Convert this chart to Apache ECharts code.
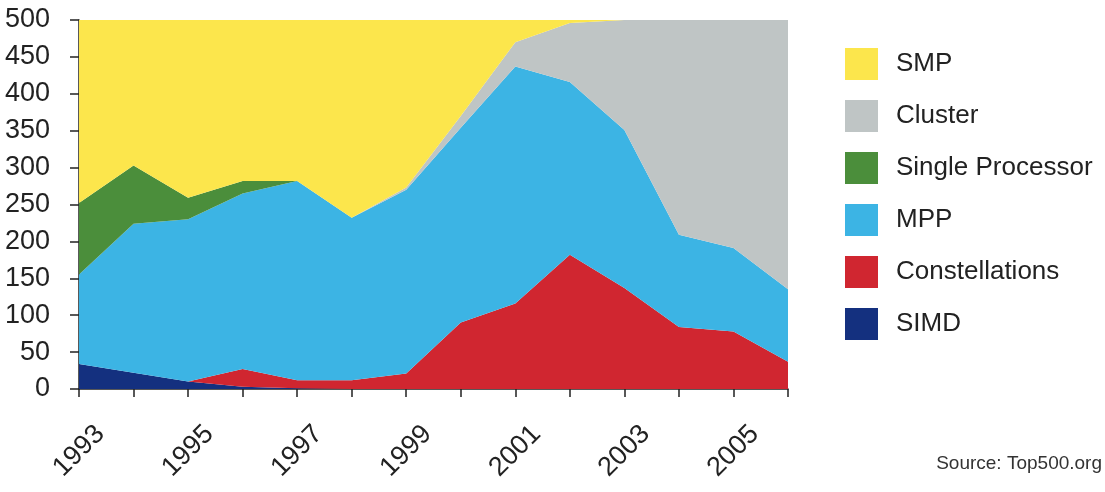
<!DOCTYPE html>
<html>
<head>
<meta charset="utf-8">
<script src="https://cdn.jsdelivr.net/npm/echarts@6/dist/echarts.min.js"></script>
<style>
html,body{margin:0;padding:0;background:#fff;}
#chart{width:1105px;height:492px;}
</style>
</head>
<body>
<div id="chart"></div>
<script>
const years = ['1993','1994','1995','1996','1997','1998','1999','2000','2001','2002','2003','2004','2005','2006'];
const simd           = [34, 22, 10,  3,   1,   0,   0,   0,   0,   0,   0,   0,   0,   0];
const constellations = [ 0,  0,  0, 24,  11,  12,  21,  90, 116, 182, 137,  84,  78,  37];
const mpp            = [121,202,220,238, 270, 220, 249, 264, 321, 234, 214, 125, 113,  98];
const singleProc     = [97, 79, 29, 17,   0,   0,   0,   0,   0,   0,   0,   0,   0,   0];
const cluster        = [ 0,  0,  0,  0,   0,   0,   3,  16,  33,  80, 149, 291, 309, 365];
const smp            = [248,197,241,218, 218, 268, 227, 130,  30,   4,   0,   0,   0,   0];
const yTicks = [0, 500, 50];
const shownYears = ['1993','1995','1997','1999','2001','2003','2005'];
const legendOrder = ['SMP','Cluster','Single Processor','MPP','Constellations','SIMD'];

const FONT = '"Liberation Sans", Arial, sans-serif';
function area(name, data, color) {
  return {
    name: name, type: 'line', stack: 'total', data: data,
    symbol: 'none', smooth: false,
    lineStyle: { width: 0, color: color },
    itemStyle: { color: color },
    areaStyle: { color: color, opacity: 1 }
  };
}
const chart = echarts.init(document.getElementById('chart'), null, { renderer: 'canvas' });
chart.setOption({
  animation: false,
  backgroundColor: '#ffffff',
  grid: { left: 79, right: 317, top: 20, bottom: 103, containLabel: false },
  legend: {
    orient: 'vertical', left: 845, top: 48, padding: 0,
    data: legendOrder, icon: 'rect',
    itemWidth: 33, itemHeight: 32, itemGap: 20,
    textStyle: { fontFamily: FONT, fontSize: 26, color: '#222', padding: [0, 0, 0, 13] }
  },
  xAxis: {
    type: 'category', data: years, boundaryGap: false,
    axisLine: { show: true, lineStyle: { color: '#222', width: 1.5 } },
    axisTick: { show: true, interval: 0, length: 8, lineStyle: { color: '#222', width: 1.5 } },
    axisLabel: {
      interval: function (i, v) { return shownYears.indexOf(v) >= 0; },
      rotate: 45, align: 'center', verticalAlign: 'middle', margin: 62,
      hideOverlap: false,
      fontFamily: FONT, fontSize: 27, color: '#222'
    },
    splitLine: { show: false }
  },
  yAxis: {
    type: 'value', min: yTicks[0], max: yTicks[1], interval: yTicks[2],
    axisLine: { show: true, lineStyle: { color: '#222', width: 1.5 } },
    axisTick: { show: true, length: 9, lineStyle: { color: '#222', width: 1.5 } },
    axisLabel: { margin: 29, fontFamily: FONT, fontSize: 27, color: '#222', padding: [6, 0, 0, 0] },
    splitLine: { show: false }
  },
  series: [
    area('SIMD', simd, '#14307f'),
    area('Constellations', constellations, '#d02630'),
    area('MPP', mpp, '#3cb4e4'),
    area('Single Processor', singleProc, '#4b8e3b'),
    area('Cluster', cluster, '#bfc5c5'),
    area('SMP', smp, '#fce64c')
  ],
  graphic: [{
    type: 'text', right: 3, top: 454,
    style: { text: 'Source: Top500.org', font: '19px ' + FONT, fill: '#333' }
  }]
});
</script>
</body>
</html>
